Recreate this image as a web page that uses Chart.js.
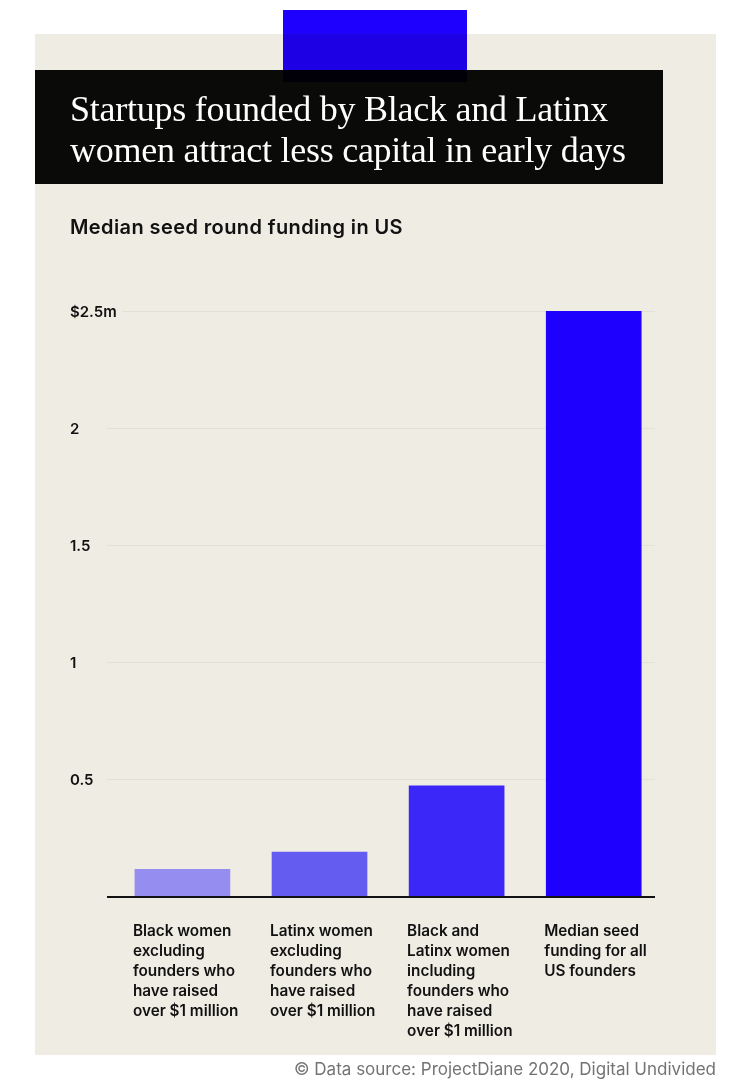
<!DOCTYPE html>
<html>
<head>
<meta charset="utf-8">
<script src="https://cdn.jsdelivr.net/npm/chart.js@4/dist/chart.umd.min.js"></script>
<style>
  html, body { margin:0; padding:0; background:#ffffff; width:752px; height:1090px; overflow:hidden; }
  #wrap { position:relative; width:752px; height:1090px; }
  .abs { position:absolute; }
  #panel { left:35px; top:34px; width:681px; height:1021px; background:#efece4; }
  #blue { left:283px; top:10px; width:184px; height:72px; background:#1e00ff; mix-blend-mode:multiply; }
  #titlebox { left:35px; top:70px; width:628px; height:114px; background:rgba(0,0,0,0.96); }
  #title { left:70px; top:89px; color:#ffffff; font-family:"Liberation Serif","DejaVu Serif",serif; font-size:36px; line-height:41px; white-space:nowrap; letter-spacing:-0.25px; }
  #subtitle { left:70px; top:214px; color:#111111; font-family:Inter,"Open Sans",sans-serif; font-weight:600; font-size:20px; line-height:26px; white-space:nowrap; letter-spacing:0.4px; }
  #footer { right:36px; top:1057px; color:#737373; font-family:Inter,"Open Sans",sans-serif; font-weight:400; font-size:17px; line-height:24px; white-space:nowrap; }
  #chart { left:0; top:0; }
</style>
</head>
<body>
<div id="wrap">
  <div id="panel" class="abs"></div>
  <div id="blue" class="abs"></div>
  <div id="titlebox" class="abs"></div>
  <div id="title" class="abs">Startups founded by Black and Latinx<br>women attract less capital in early days</div>
  <div id="subtitle" class="abs">Median seed round funding in US</div>
  <canvas id="chart" class="abs" width="752" height="1090"></canvas>
  <div id="footer" class="abs">© Data source: ProjectDiane 2020, Digital Undivided</div>
</div>
<script>
const categories = [
  ["Black women", "excluding", "founders who", "have raised", "over $1 million"],
  ["Latinx women", "excluding", "founders who", "have raised", "over $1 million"],
  ["Black and", "Latinx women", "including", "founders who", "have raised", "over $1 million"],
  ["Median seed", "funding for all", "US founders"]
];
const values = [0.118, 0.192, 0.474, 2.5];
const barColors = ["#958ef0", "#645cf0", "#3b28f8", "#1e00ff"];
const yTicks = [0, 0.5, 1, 1.5, 2, 2.5];
const yTickLabels = ["", "0.5", "1", "1.5", "2", "$2.5m"];

const labelFont = '600 15.3px Inter, "Open Sans", sans-serif';
const tickFont = '600 15px Inter, "Open Sans", sans-serif';
const panelColor = '#efece4';

const categoryLabels = {
  id: 'categoryLabels',
  afterDraw(chart) {
    const ctx = chart.ctx;
    const meta = chart.getDatasetMeta(0);
    const y0 = chart.scales.y.getPixelForValue(0);
    ctx.save();
    ctx.font = labelFont;
    ctx.fillStyle = '#111111';
    ctx.textAlign = 'left';
    ctx.textBaseline = 'middle';
    meta.data.forEach((bar, i) => {
      const left = bar.x - bar.width / 2;
      categories[i].forEach((line, j) => {
        ctx.fillText(line, left - 2, y0 + 34 + j * 20);
      });
    });
    ctx.restore();
  }
};

const yLabels = {
  id: 'yLabels',
  afterDatasetsDraw(chart) {
    const ctx = chart.ctx;
    const ys = chart.scales.y;
    const x0 = 70;
    ctx.save();
    ctx.font = tickFont;
    ctx.textAlign = 'left';
    ctx.textBaseline = 'middle';
    yTicks.forEach((v, i) => {
      const t = yTickLabels[i];
      if (!t) return;
      const y = ys.getPixelForValue(v);
      const w = ctx.measureText(t).width;
      ctx.fillStyle = panelColor;
      ctx.fillRect(x0, y - 3, w + 6, 6);
      ctx.fillStyle = '#111111';
      ctx.fillText(t, x0, y + 1);
    });
    // baseline
    const a = chart.chartArea;
    const y0 = ys.getPixelForValue(0);
    ctx.strokeStyle = '#111111';
    ctx.lineWidth = 2;
    ctx.beginPath();
    ctx.moveTo(a.left, y0);
    ctx.lineTo(a.right, y0);
    ctx.stroke();
    ctx.restore();
  }
};

new Chart(document.getElementById('chart'), {
  type: 'bar',
  data: {
    datasets: [{
      data: values.map((v, i) => ({ x: i, y: v })),
      backgroundColor: barColors,
      borderWidth: 0,
      barThickness: 95
    }]
  },
  options: {
    responsive: false,
    devicePixelRatio: 1,
    animation: false,
    layout: { padding: { left: 70, right: 97, top: 311, bottom: 193 } },
    plugins: { legend: { display: false }, tooltip: { enabled: false } },
    scales: {
      x: { type: 'linear', display: false, offset: false, min: -0.55, max: 3.447 },
      y: {
        min: 0, max: 2.5,
        afterFit(scale) { scale.width = 37; },
        afterBuildTicks(scale) { scale.ticks = yTicks.map(v => ({ value: v })); },
        border: { display: false },
        grid: {
          drawTicks: false,
          color: (c) => c.tick && c.tick.value === 0 ? 'rgba(0,0,0,0)' : '#e4e0d7',
          lineWidth: 1
        },
        ticks: { display: false }
      }
    }
  },
  plugins: [yLabels, categoryLabels]
});
</script>
</body>
</html>
